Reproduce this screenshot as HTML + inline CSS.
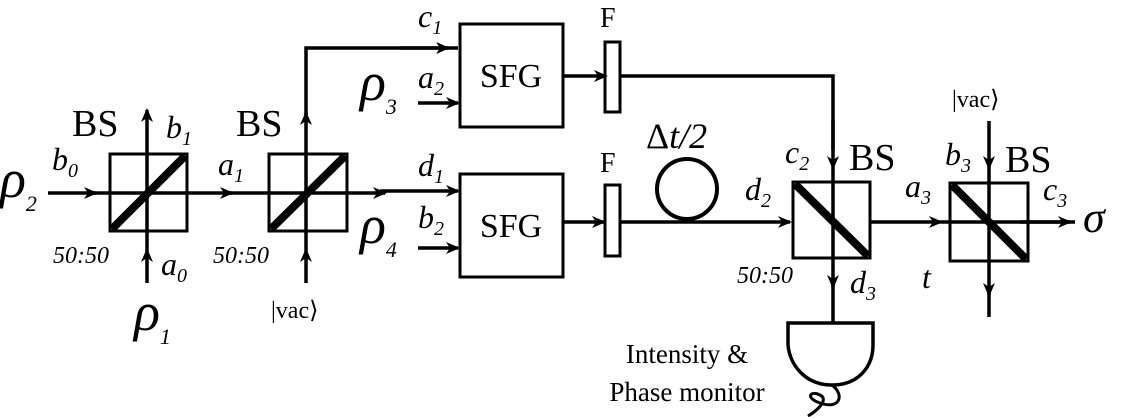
<!DOCTYPE html>
<html><head><meta charset="utf-8"><style>
html,body{margin:0;padding:0;background:#fff;}
svg{display:block;}
text{font-family:"Liberation Serif",serif;fill:#000;}
</style></head><body>
<svg width="1122" height="418" viewBox="0 0 1122 418" xmlns="http://www.w3.org/2000/svg">
<defs>
<marker id="ar" viewBox="0 0 14 12" refX="12" refY="6" markerWidth="14" markerHeight="12" markerUnits="userSpaceOnUse" orient="auto">
<path d="M0,0 L14,6 L0,12 L4,6 Z" fill="#000"/>
</marker>
</defs>
<g stroke="#000" stroke-width="3.5" fill="none">
<line x1="48" y1="193" x2="96" y2="193" marker-end="url(#ar)"/>
<line x1="90" y1="193" x2="232" y2="193" marker-end="url(#ar)"/>
<line x1="226" y1="193" x2="385" y2="193" marker-end="url(#ar)"/>
<line x1="380" y1="191" x2="458" y2="191" marker-end="url(#ar)"/>
<rect x="110" y="154" width="77" height="77" stroke-width="3"/>
<line x1="147" y1="283" x2="147" y2="250" marker-end="url(#ar)"/>
<line x1="147" y1="250" x2="147" y2="110" marker-end="url(#ar)"/>
<rect x="269" y="154" width="78" height="77" stroke-width="3"/>
<line x1="306" y1="283" x2="306" y2="250" marker-end="url(#ar)"/>
<line x1="306" y1="250" x2="306" y2="113" marker-end="url(#ar)"/>
<polyline points="306,115 306,48 458,48"/>
<line x1="400" y1="48" x2="448" y2="48" marker-end="url(#ar)"/>
<rect x="460" y="24" width="103" height="103" stroke-width="3"/>
<rect x="460" y="174" width="103" height="103" stroke-width="3"/>
<line x1="418" y1="103" x2="458" y2="103" marker-end="url(#ar)"/>
<line x1="418" y1="248" x2="458" y2="248" marker-end="url(#ar)"/>
<line x1="563" y1="76" x2="606" y2="76" marker-end="url(#ar)"/>
<line x1="563" y1="222" x2="604" y2="222" marker-end="url(#ar)"/>
<rect x="605" y="42" width="15" height="70" stroke-width="3"/>
<rect x="605" y="185" width="15" height="71" stroke-width="3"/>
<polyline points="620,76 833,76 833,150"/>
<line x1="833" y1="120" x2="833" y2="168" marker-end="url(#ar)"/>
<line x1="620" y1="222" x2="790" y2="222" marker-end="url(#ar)"/>
<circle cx="687" cy="189" r="30" stroke-width="4"/>
<rect x="793" y="182" width="77" height="76" stroke-width="3"/>
<line x1="833" y1="168" x2="833" y2="287" marker-end="url(#ar)"/>
<line x1="833" y1="280" x2="833" y2="323"/>
<line x1="870" y1="222" x2="941" y2="222" marker-end="url(#ar)"/>
<path d="M788,323 L873,323 L873,345 C873,365 860,385 832,385 C805,385 790,365 788,345 Z" stroke-width="3.5"/>
<path d="M832,385 C845,395 840,410 820,403 C805,398 810,390 820,395 C830,400 815,412 808,416" stroke-width="3"/>
<rect x="950" y="183" width="78" height="78" stroke-width="3"/>
<line x1="989" y1="121" x2="989" y2="168" marker-end="url(#ar)"/>
<line x1="989" y1="168" x2="989" y2="295" marker-end="url(#ar)"/>
<line x1="989" y1="290" x2="989" y2="317"/>
<line x1="941" y1="222" x2="1075" y2="222"/>
<line x1="1020" y1="222" x2="1070" y2="222" marker-end="url(#ar)"/>
</g>
<g stroke="#000" stroke-width="8">
<line x1="112" y1="229" x2="185" y2="156"/>
<line x1="271" y1="229" x2="345" y2="156"/>
<line x1="795" y1="184" x2="868" y2="256"/>
<line x1="952" y1="185" x2="1026" y2="259"/>
</g>
<g font-size="38">
<text x="72" y="136">BS</text>
<text x="236" y="136">BS</text>
<text x="849" y="170">BS</text>
<text x="1005" y="172">BS</text>
</g>
<g font-size="34" text-anchor="middle">
<text x="511" y="87">SFG</text>
<text x="511" y="237">SFG</text>
</g>
<text x="600" y="27" font-size="28">F</text>
<text x="600" y="172" font-size="28">F</text>
<text x="646" y="148" font-size="36">Δ<tspan font-style="italic">t</tspan><tspan font-style="italic">/2</tspan></text>
<text x="271" y="318" font-size="24">|vac⟩</text>
<text x="952" y="107" font-size="24">|vac⟩</text>
<g font-style="italic" font-size="54">
<text x="0" y="197">ρ<tspan font-size="22" dy="14">2</tspan></text>
<text x="134" y="330">ρ<tspan font-size="22" dy="14">1</tspan></text>
<text x="360" y="100">ρ<tspan font-size="22" dy="14">3</tspan></text>
<text x="360" y="243">ρ<tspan font-size="22" dy="14">4</tspan></text>
</g>
<g font-size="32" font-style="italic">
<text x="52" y="170">b<tspan font-size="20" dy="7">0</tspan></text>
<text x="166" y="138">b<tspan font-size="20" dy="7">1</tspan></text>
<text x="161" y="275">a<tspan font-size="20" dy="7">0</tspan></text>
<text x="218" y="175">a<tspan font-size="20" dy="7">1</tspan></text>
<text x="418" y="27">c<tspan font-size="20" dy="7">1</tspan></text>
<text x="418" y="88">a<tspan font-size="20" dy="7">2</tspan></text>
<text x="418" y="176">d<tspan font-size="20" dy="7">1</tspan></text>
<text x="418" y="228">b<tspan font-size="20" dy="7">2</tspan></text>
<text x="785" y="163">c<tspan font-size="20" dy="7">2</tspan></text>
<text x="745" y="200">d<tspan font-size="20" dy="7">2</tspan></text>
<text x="850" y="293">d<tspan font-size="20" dy="7">3</tspan></text>
<text x="905" y="197">a<tspan font-size="20" dy="7">3</tspan></text>
<text x="945" y="165">b<tspan font-size="20" dy="7">3</tspan></text>
<text x="1043" y="200">c<tspan font-size="20" dy="7">3</tspan></text>
<text x="922" y="288">t</text>
<text x="1083" y="232" font-size="44">σ</text>
</g>
<g font-size="24" font-style="italic">
<text x="53" y="263">50:50</text>
<text x="213" y="263">50:50</text>
<text x="737" y="283">50:50</text>
</g>
<text x="687" y="363" font-size="27" text-anchor="middle">Intensity &amp;</text>
<text x="687" y="401" font-size="27" text-anchor="middle">Phase monitor</text>
</svg>
</body></html>
